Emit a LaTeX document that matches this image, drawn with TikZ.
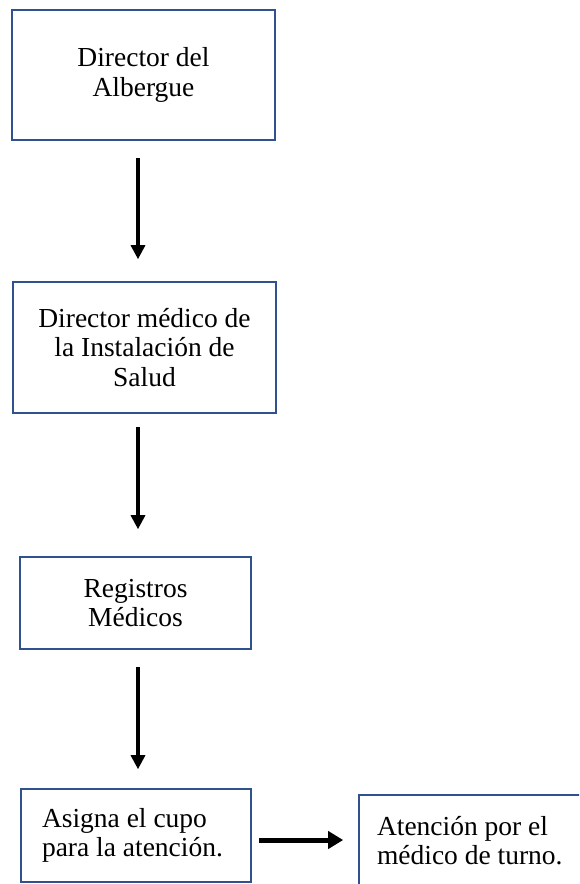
\documentclass[tikz,border=0pt]{standalone}
\usepackage{fontspec}
\setmainfont{Liberation Serif}
\usetikzlibrary{arrows.meta}
\definecolor{boxblue}{RGB}{47,82,143}
\tikzset{
  box/.style={draw=boxblue, line width=1.6pt, rectangle, inner sep=0pt,
    font=\fontsize{27.5}{29.5}\selectfont, align=center},
  lbox/.style={box, align=flush left},
  varr/.style={line width=3.2pt, -{Triangle[width=14pt,length=14pt]}},
  harr/.style={line width=5pt, -{Triangle[width=17pt,length=15pt]}}
}
\begin{document}
\begin{tikzpicture}[x=1pt,y=-1pt]
\clip (0,0) rectangle (579,884);
\fill[white] (0,0) rectangle (579,884);
\node[box, minimum width=263pt, minimum height=130pt] (b1) at (143.5,75) {Director del\\Albergue};
\node[box, minimum width=263pt, minimum height=131pt] (b2) at (144.5,347.5) {Director médico de\\la Instalación de\\Salud};
\node[lbox, minimum width=230pt, minimum height=93pt, inner xsep=21pt, text width=188pt] (b4) at (136,835.5) {Asigna el cupo\\para la atención.};
\node[box, minimum width=231pt, minimum height=92pt] (b3) at (135.5,603) {Registros\\Médicos};
\node[lbox, minimum width=241pt, minimum height=91pt, inner xsep=18pt, text width=205pt] (b5) at (479.5,840.5) {Atención por el\\médico de turno.};
\coordinate (ax) at (138,0);
\coordinate (hy) at (0,840);
\draw[varr, shorten <=17pt, shorten >=22pt] (b1.south -| ax) -- (b2.north -| ax);
\draw[varr, shorten <=13pt, shorten >=27pt] (b2.south -| ax) -- (b3.north -| ax);
\draw[varr, shorten <=17pt, shorten >=19pt] (b3.south -| ax) -- (b4.north -| ax);
\draw[harr, shorten <=7pt, shorten >=15pt] (b4.east |- hy) -- (b5.west |- hy);
\end{tikzpicture}
\end{document}
